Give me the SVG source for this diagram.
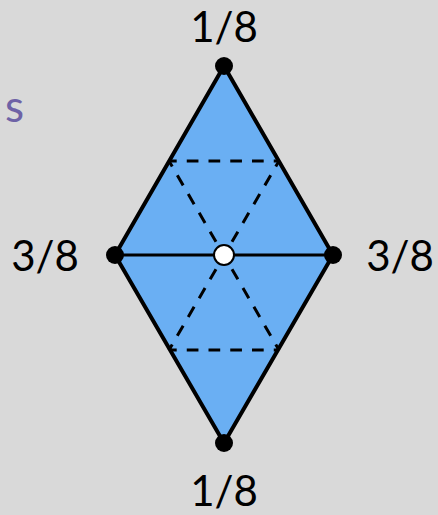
<svg xmlns="http://www.w3.org/2000/svg" width="438" height="515" viewBox="0 0 438 515">
<style>
.lbl{font-family:Lato,"Liberation Sans",sans-serif;font-size:42px;fill:#000}
.dash{stroke:#000;stroke-width:3;stroke-dasharray:11.7 10.05;fill:none}
.dot{fill:#000}
</style>
<rect width="438" height="515" fill="#D9D9D9"/>
<text x="5" y="121.5" style="font-family:Lato,'Liberation Sans',sans-serif;font-size:44px;fill:#6E62A6">s</text>
<g id="shape">
<polygon points="224,66 333,255 224,443 115,255" fill="#6AAFF3" stroke="#000" stroke-width="4" stroke-linejoin="round"/>
</g>
<g id="connectors">
<line x1="115" y1="255" x2="333" y2="255" stroke="#000" stroke-width="3"/>
<line class="dash" x1="169" y1="161" x2="279" y2="161" stroke-dashoffset="4"/>
<line class="dash" x1="169" y1="350" x2="279" y2="350" stroke-dashoffset="4"/>
<line class="dash" x1="169" y1="161" x2="279" y2="350" stroke-dashoffset="5.25"/>
<line class="dash" x1="279" y1="161" x2="169" y2="350" stroke-dashoffset="5.25"/>
</g>
<g id="top"><circle class="dot" cx="224" cy="66" r="9"/><text class="lbl" x="224" y="42" text-anchor="middle">1/8</text></g>
<g id="bottom"><circle class="dot" cx="224" cy="443" r="9"/><text class="lbl" x="224" y="506" text-anchor="middle">1/8</text></g>
<g id="left"><circle class="dot" cx="115" cy="255" r="9"/><text class="lbl" x="45" y="271" text-anchor="middle">3/8</text></g>
<g id="right"><circle class="dot" cx="333" cy="255" r="9"/><text class="lbl" x="400" y="271" text-anchor="middle">3/8</text></g>
<g id="center"><circle cx="224" cy="255" r="10" fill="#fff" stroke="#000" stroke-width="2"/></g>
</svg>
